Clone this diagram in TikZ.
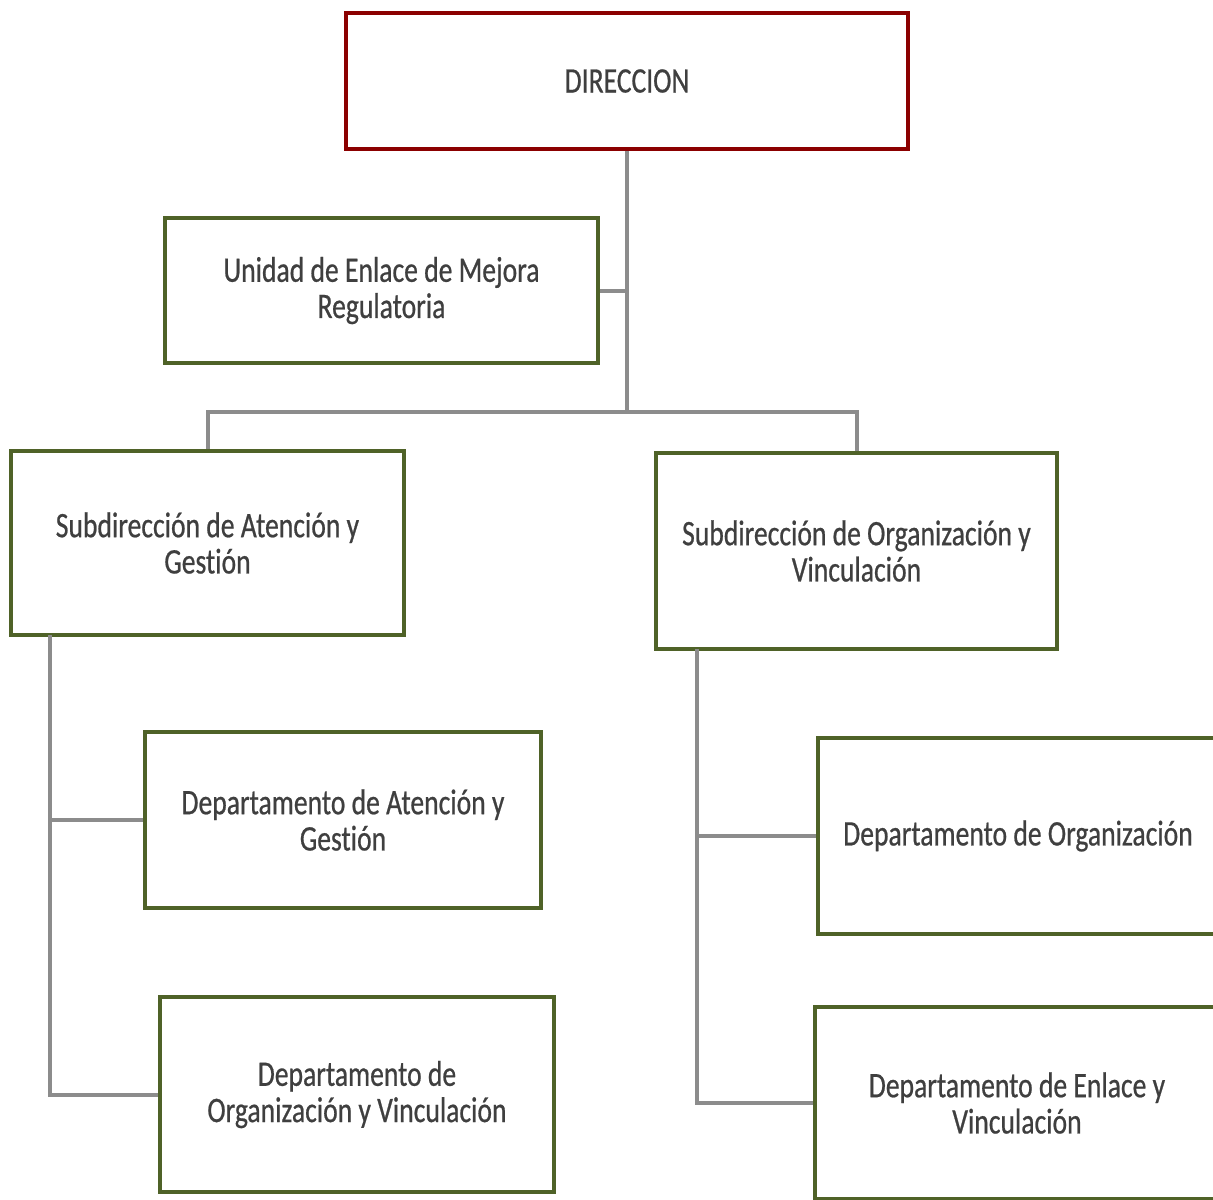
\documentclass[tikz,border=0pt]{standalone}
\usepackage{fontspec}
\setmainfont[FakeStretch=0.77,FakeBold=0.6,Ligatures=NoCommon]{Carlito}
\definecolor{dirred}{HTML}{8B0000}
\definecolor{unitgreen}{HTML}{4F6228}
\definecolor{linkgray}{HTML}{8C8C8C}
\definecolor{textgray}{HTML}{3F3F3F}
\begin{document}
\begin{tikzpicture}[x=0.01cm,y=-0.01cm,
  box/.style={draw=unitgreen,line width=0.04cm,fill=white,inner sep=0pt,
    align=center,text=textgray,font=\fontsize{10.2pt}{10.3pt}\selectfont},
  topbox/.style={box,draw=dirred},
  link/.style={draw=linkgray,line width=0.04cm}]

\useasboundingbox (0,0) rectangle (1213,1199);

\node [topbox,minimum width=5.62cm,minimum height=1.36cm] (dir) at (627,81) {DIRECCION};
\node [box,minimum width=4.33cm,minimum height=1.45cm] (unidad) at (381.5,290.5) {Unidad de Enlace de Mejora\\Regulatoria};

\node [box,minimum width=3.93cm,minimum height=1.84cm] (subatn) at (207.5,543) {Subdirección de Atención y\\Gestión};
\node [box,minimum width=4.01cm,minimum height=1.96cm] (suborg) at (856.5,551) {Subdirección de Organización y\\Vinculación};

\node [box,minimum width=3.96cm,minimum height=1.76cm] (depatn) at (343,820) {Departamento de Atención y\\Gestión};
\node [box,minimum width=3.94cm,minimum height=1.95cm] (deporgvin) at (357,1094.5) {Departamento de\\Organización y Vinculación};

\node [box,minimum width=4.00cm,minimum height=1.96cm] (deporg) at (1018,836) {Departamento de Organización};
\node [box,minimum width=4.04cm,minimum height=1.92cm] (depenl) at (1017,1103) {Departamento de Enlace y\\Vinculación};

\coordinate (bus) at (627,412);
\coordinate (lspine) at (50,635);
\coordinate (rspine) at (697,649);

\path [link]
    (dir.south) -- (bus)
    (unidad.east) -- (unidad.east -| bus)
    (subatn.north) |- (bus) -| (suborg.north)
    (lspine) |- (deporgvin.west)
    (depatn.west -| lspine) -- (depatn.west)
    (rspine) |- (depenl.west)
    (deporg.west -| rspine) -- (deporg.west)
;

\end{tikzpicture}
\end{document}
